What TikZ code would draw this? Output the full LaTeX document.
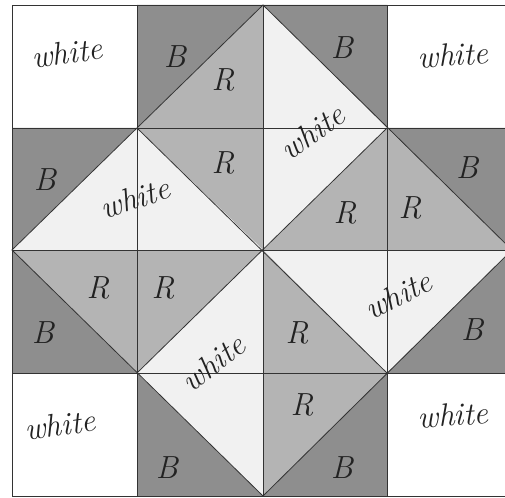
\documentclass[tikz,border=0pt]{standalone}
\usepackage{tikz}
\definecolor{bdark}{HTML}{8E8E8E}
\definecolor{rmid}{HTML}{B4B4B4}
\definecolor{wlight}{HTML}{F1F1F1}
\definecolor{ink}{HTML}{222222}
\begin{document}
\begin{tikzpicture}[x=1pt,y=-1pt,
  wordlab/.style={font=\fontsize{32}{34}\selectfont\itshape, inner sep=0pt, text=ink},
  letlab/.style={font=\fontsize{32}{34}\selectfont\itshape, inner sep=0pt, text=ink},
  gridline/.style={draw=black!80, line width=0.8pt},
  bpiece/.style={fill=bdark},
  rpiece/.style={fill=rmid},
  wpiece/.style={fill=wlight}]
\useasboundingbox (0,0) rectangle (505,497);
\fill[white] (0,0) rectangle (505,497);
\begin{scope}
\clip (0,0) rectangle (505,497);
\foreach \c/\x in {0/12,1/137,2/263,3/387,4/512}{
  \foreach \r/\y in {0/5,1/128,2/250,3/373,4/496}{
    \coordinate (P\c\r) at (\x,\y);
  }
}
% row 0
\fill[bpiece] (P10) -- (P20) -- (P11) -- cycle;
\fill[rpiece] (P20) -- (P21) -- (P11) -- cycle;
\fill[bpiece] (P20) -- (P30) -- (P31) -- cycle;
\fill[wpiece] (P20) -- (P31) -- (P21) -- cycle;
% row 1
\fill[bpiece] (P01) -- (P11) -- (P02) -- cycle;
\fill[wpiece] (P11) -- (P12) -- (P02) -- cycle;
\fill[rpiece] (P11) -- (P21) -- (P22) -- cycle;
\fill[wpiece] (P11) -- (P22) -- (P12) -- cycle;
\fill[wpiece] (P21) -- (P31) -- (P22) -- cycle;
\fill[rpiece] (P31) -- (P32) -- (P22) -- cycle;
\fill[bpiece] (P31) -- (P41) -- (P42) -- cycle;
\fill[rpiece] (P31) -- (P42) -- (P32) -- cycle;
% row 2
\fill[rpiece] (P02) -- (P12) -- (P13) -- cycle;
\fill[bpiece] (P02) -- (P13) -- (P03) -- cycle;
\fill[rpiece] (P12) -- (P22) -- (P13) -- cycle;
\fill[wpiece] (P22) -- (P23) -- (P13) -- cycle;
\fill[wpiece] (P22) -- (P32) -- (P33) -- cycle;
\fill[rpiece] (P22) -- (P33) -- (P23) -- cycle;
\fill[wpiece] (P32) -- (P42) -- (P33) -- cycle;
\fill[bpiece] (P42) -- (P43) -- (P33) -- cycle;
% row 3
\fill[wpiece] (P13) -- (P23) -- (P24) -- cycle;
\fill[bpiece] (P13) -- (P24) -- (P14) -- cycle;
\fill[rpiece] (P23) -- (P33) -- (P24) -- cycle;
\fill[bpiece] (P33) -- (P34) -- (P24) -- cycle;
% grid
\draw[gridline] (P00) rectangle (P44);
\foreach \c in {1,2,3}{ \draw[gridline] (P\c0) -- (P\c4); }
\foreach \r in {1,2,3}{ \draw[gridline] (P0\r) -- (P4\r); }
% diagonals
\draw[gridline] (P02) -- (P20) -- (P42) -- (P24) -- cycle;
\draw[gridline] (P11) -- (P33);
\draw[gridline] (P13) -- (P31);
% labels
\node[wordlab, rotate=8] (w1) at (67,53) {white};
\node[letlab] (b1) at (175,57) {B};
\node[letlab] (r1) at (223,80) {R};
\node[letlab] (b2) at (342,48) {B};
\node[wordlab, rotate=35] (w2) at (312,132) {white};
\node[wordlab, rotate=4] (w3) at (453,55) {white};
\node[letlab] (b3) at (45,180) {B};
\node[wordlab, rotate=18] (w4) at (135,198) {white};
\node[letlab] (r2) at (223,163) {R};
\node[letlab] (r3) at (345,213) {R};
\node[letlab] (r4) at (410,208) {R};
\node[letlab] (b4) at (467,168) {B};
\node[letlab] (r5) at (98,288) {R};
\node[letlab] (r6) at (163,288) {R};
\node[letlab] (b5) at (43,333) {B};
\node[wordlab, rotate=38] (w5) at (213,363) {white};
\node[letlab] (r7) at (297,333) {R};
\node[wordlab, rotate=27] (w6) at (398,295) {white};
\node[letlab] (b6) at (472,330) {B};
\node[wordlab, rotate=8] (w7) at (60,425) {white};
\node[letlab] (b7) at (167,468) {B};
\node[letlab] (r8) at (302,405) {R};
\node[letlab] (b8) at (342,468) {B};
\node[wordlab, rotate=4] (w8) at (453,415) {white};
\end{scope}
\end{tikzpicture}
\end{document}
